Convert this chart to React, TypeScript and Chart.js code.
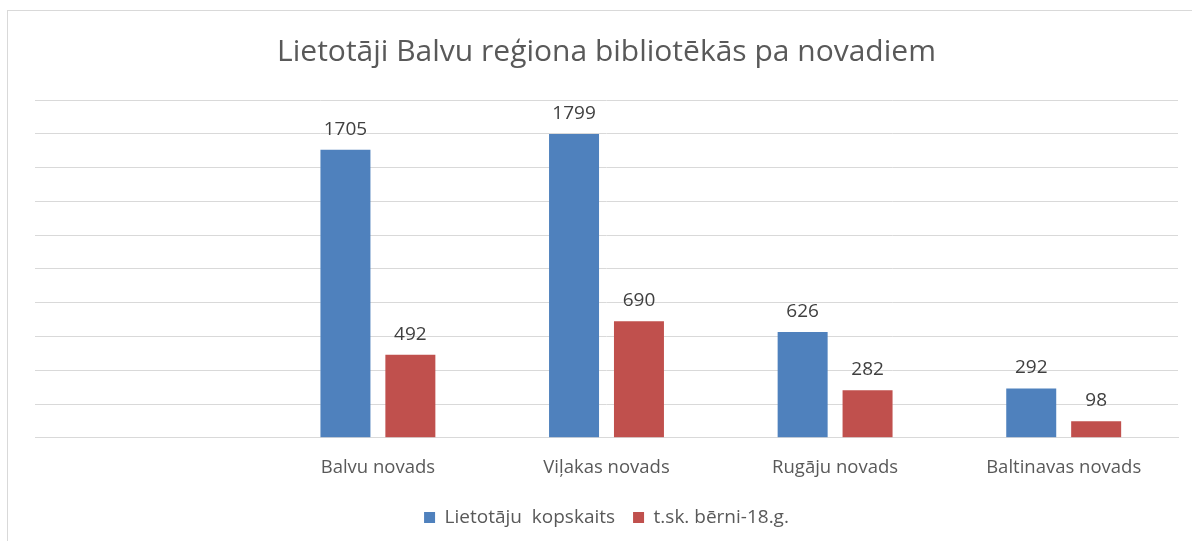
import React, { useEffect, useRef } from "react";
import { Chart, registerables } from "chart.js";

Chart.register(...registerables);

const categories = ["", "Balvu novads", "Viļakas novads", "Rugāju novads", "Baltinavas novads"];
const totalUsers = [null, 1705, 1799, 626, 292];
const childUsers = [null, 492, 690, 282, 98];
const seriesNames = ["Lietotāju  kopskaits", "t.sk. bērni-18.g."];
const titleText = "Lietotāji Balvu reģiona bibliotēkās pa novadiem";

const FONT = "'Open Sans', sans-serif";

const valueLabels = {
  id: "valueLabels",
  afterDatasetsDraw(chart: any) {
    const ctx = chart.ctx;
    ctx.save();
    ctx.font = `19px ${FONT}`;
    ctx.fillStyle = "#404040";
    ctx.textAlign = "center";
    ctx.textBaseline = "bottom";
    chart.data.datasets.forEach((ds: any, i: number) => {
      const meta = chart.getDatasetMeta(i);
      meta.data.forEach((bar: any, j: number) => {
        const v = ds.data[j];
        if (v === null || v === undefined) return;
        ctx.fillText(String(v), bar.x, bar.y - 11);
      });
    });
    ctx.restore();
  },
};

export default function App() {
  const ref = useRef<HTMLCanvasElement | null>(null);
  useEffect(() => {
    if (!ref.current) return;
    const chart = new Chart(ref.current, {
      type: "bar",
      data: {
        labels: categories,
        datasets: [
          { label: seriesNames[0], data: totalUsers, backgroundColor: "#4F81BD" },
          { label: seriesNames[1], data: childUsers, backgroundColor: "#C0504D" },
        ],
      },
      plugins: [valueLabels],
      options: {
        responsive: false,
        animation: false,
        layout: { padding: { left: 35, right: 14, top: 0, bottom: 4 } },
        datasets: {
          bar: { categoryPercentage: 0.568, barPercentage: 0.77 },
        },
        plugins: {
          title: {
            display: true,
            text: titleText,
            font: { family: FONT, size: 30, weight: "normal" },
            color: "#595959",
            padding: { top: 34, bottom: 30 },
          },
          legend: {
            position: "bottom",
            labels: {
              font: { family: FONT, size: 19 },
              color: "#595959",
              boxWidth: 11,
              boxHeight: 11,
              padding: 18,
            },
          },
          tooltip: { enabled: false },
        },
        scales: {
          x: {
            grid: { display: false },
            border: { color: "#d9d9d9" },
            ticks: { font: { family: FONT, size: 18.5 }, color: "#595959", padding: 11 },
          },
          y: {
            min: 0,
            max: 2000,
            ticks: { stepSize: 200, display: false },
            grid: { color: "#d9d9d9", drawTicks: false },
            border: { display: false },
          },
        },
      },
    });
    return () => chart.destroy();
  }, []);
  return (
    <div style={{ position: "absolute", left: 0, top: 0, width: 1192, height: 541, overflow: "hidden", background: "#fff" }}>
      <div style={{ position: "absolute", left: 7, top: 10, width: 1300, height: 700, border: "1px solid #d9d9d9", boxSizing: "border-box" }} />
      <canvas ref={ref} width={1192} height={541} style={{ position: "absolute", left: 0, top: 0 }} />
    </div>
  );
}
